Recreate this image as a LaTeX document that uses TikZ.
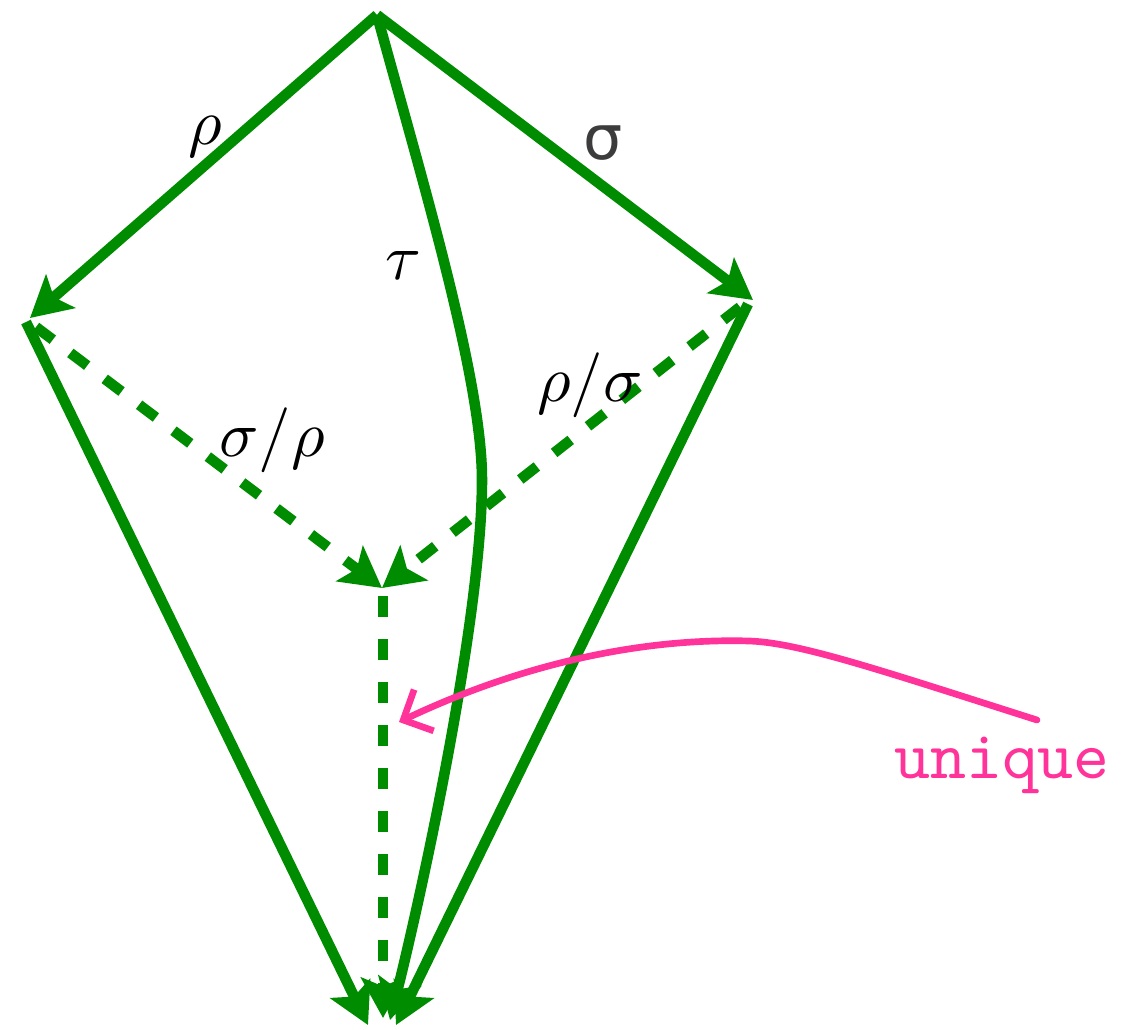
\documentclass[tikz,border=0pt]{standalone}
\usepackage{fontspec}
\newfontfamily\dejavu{DejaVu Sans}
\usetikzlibrary{arrows.meta}
\definecolor{grn}{RGB}{0,140,0}
\definecolor{pnk}{RGB}{255,51,153}
\definecolor{dgray}{RGB}{60,60,60}
\tikzset{
  edge/.style={draw=grn, line width=6pt, -{Stealth[length=23pt,width=25pt,inset=5pt,fill=grn]}},
  dashedge/.style={edge, dash pattern=on 12pt off 12.5pt},
  lbl/.style={inner sep=0pt, scale=3.7},
  pinkarrow/.style={draw=pnk, line width=3.8pt, line cap=round, -{Straight Barb[length=13pt,width=26pt]}}
}
\begin{document}
\begin{tikzpicture}[x=0.02cm,y=-0.02cm]
\useasboundingbox (0,0) rectangle (1146,1029);
% vertices
\coordinate (T) at (377,15);
\coordinate (Ltip) at (30,318);
\coordinate (Lsrc) at (26,322);
\coordinate (Rtip) at (753,300);
\coordinate (Rsrc) at (748,304);
\coordinate (LdSrc) at (36,327);
\coordinate (RdSrc) at (740,307);
\coordinate (Mtip) at (382,588);
\coordinate (Msrc) at (383,596);
\coordinate (BL) at (368,1025);
\coordinate (BR) at (396,1025);
\coordinate (BT) at (390,1020);
\coordinate (BM) at (383,1018);
\coordinate (P0) at (1037,720);
\coordinate (Ptip) at (399,722);
% solid edges
\draw[edge] (T) -- (Ltip);
\draw[edge] (T) -- (Rtip);
\draw[edge] (Lsrc) -- (BL);
\draw[edge] (Rsrc) -- (BR);
\draw[edge] (T) .. controls (425,190) and (482,380) .. (482,480)
               .. controls (482,620) and (420,900) .. (BT);
% dashed edges
\draw[dashedge] (LdSrc) -- (Mtip);
\draw[dashedge] (RdSrc) -- (Mtip);
\draw[dashedge] (Msrc) -- (BM);
% pink arrow
\draw[pinkarrow] (P0) .. controls (880,670) and (800,643) .. (750,641)
                 .. controls (650,638) and (530,660) .. (Ptip);
% labels
\node[lbl] (rho) at (205,137) {$\rho$};
\node[lbl, text=dgray, scale=0.95, font=\dejavu] (sig) at (603,143) {σ};
\node[lbl] (tau) at (403,265) {$\tau$};
\node[lbl] (sr) at (272,440) {$\sigma/\rho$};
\node[lbl] (rs) at (590,385) {$\rho/\sigma$};
\node[inner sep=0pt, text=pnk, scale=3.9, font=\ttfamily] (uniq) at (1002,765) {unique};
\end{tikzpicture}
\end{document}
